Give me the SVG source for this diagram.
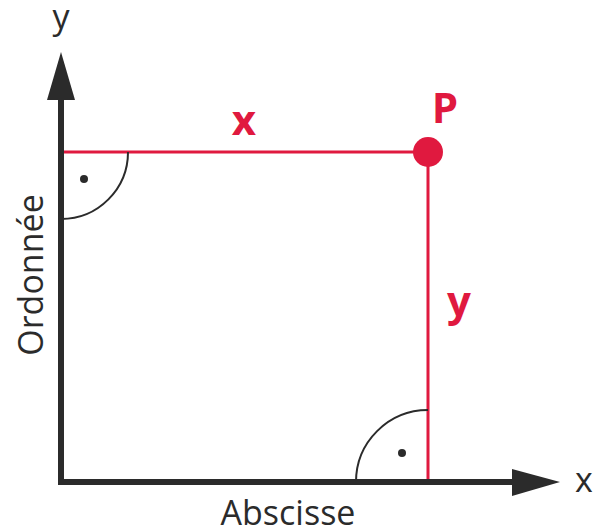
<svg xmlns="http://www.w3.org/2000/svg" width="593" height="531" viewBox="0 0 593 531">
<style>
.ax{stroke:#2b2b2b;stroke-width:6;fill:none}
.red{stroke:#e0193f;stroke-width:3;fill:none}
.arc{stroke:#2b2b2b;stroke-width:2;fill:none}
.lbl{font-family:"Open Sans","Liberation Sans",sans-serif;fill:#2b2b2b;font-size:34px;font-weight:400}
.rl{font-family:"Open Sans","Liberation Sans",sans-serif;fill:#e0193f;font-size:42px;font-weight:700}
</style>
<rect width="593" height="531" fill="#fff"/>
<g id="connectors">
<line class="red" x1="63" y1="152" x2="428" y2="152"/>
<line class="red" x1="428" y1="152" x2="428" y2="482"/>
<path class="ax" d="M61,485 V96"/>
<path class="ax" d="M58,482 H516"/>
<polygon points="61,52 47,100 75,100" fill="#2b2b2b"/>
<polygon points="560,482 512,469 512,496" fill="#2b2b2b"/>
<path class="arc" d="M128,152 A67,67 0 0 1 61,219"/>
<path class="arc" d="M356,482 A72,72 0 0 1 428,410"/>
<circle cx="84" cy="179" r="4" fill="#2b2b2b"/>
<circle cx="402" cy="453" r="4" fill="#2b2b2b"/>
</g>
<g id="P"><circle cx="428" cy="152" r="15" fill="#e0193f"/><text class="rl" x="445" y="123" text-anchor="middle">P</text></g>
<g id="labels">
<text class="lbl" x="61" y="29" text-anchor="middle">y</text>
<text class="lbl" x="584" y="492" text-anchor="middle">x</text>
<text class="lbl" x="288" y="525" text-anchor="middle">Abscisse</text>
<text class="lbl" transform="translate(43,275) rotate(-90)" text-anchor="middle">Ordonnée</text>
<text class="rl" x="244" y="135" text-anchor="middle">x</text>
<text class="rl" x="459" y="316" text-anchor="middle">y</text>
</g>
</svg>
